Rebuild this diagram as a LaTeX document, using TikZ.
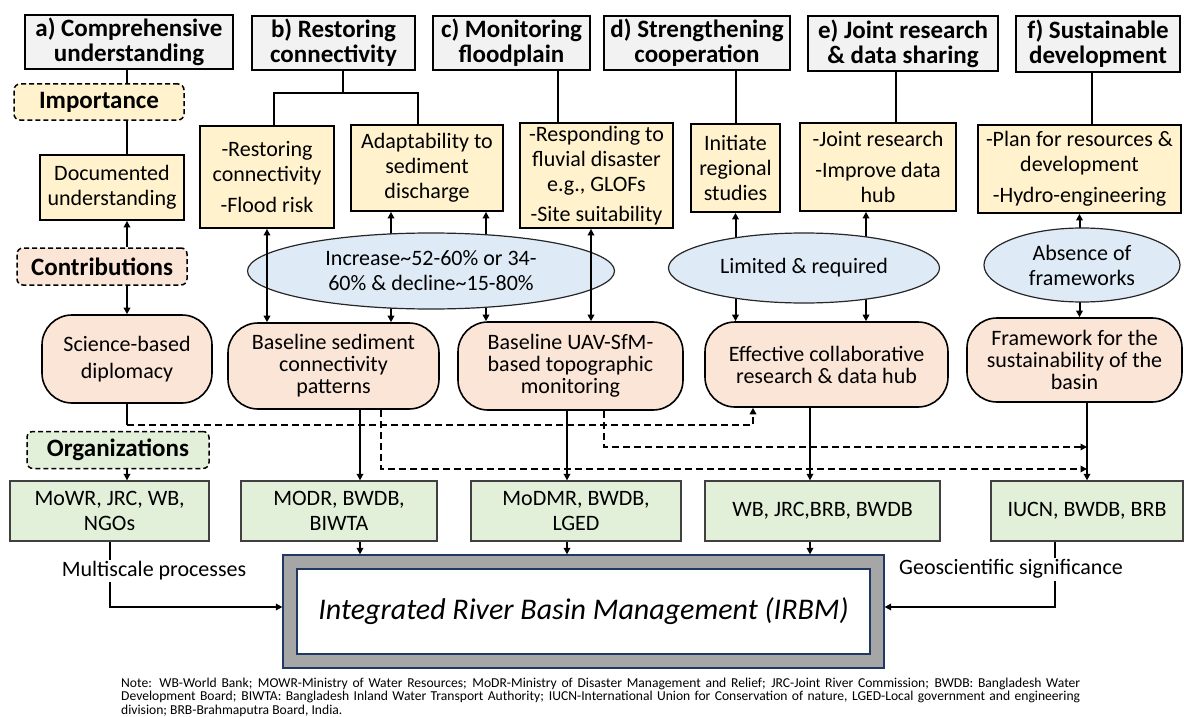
\documentclass[tikz,border=0pt]{standalone}
\usepackage{fontspec}
\setmainfont{Carlito}
\usepackage{tikz}
\usetikzlibrary{arrows.meta,shapes.geometric}
\definecolor{headgray}{HTML}{F2F2F2}
\definecolor{ideayel}{HTML}{FFF2CC}
\definecolor{pinkfill}{HTML}{FBE5D6}
\definecolor{orggreen}{HTML}{E2F0D9}
\definecolor{ovalblue}{HTML}{DEEBF7}
\definecolor{framegray}{HTML}{A6A6A6}
\definecolor{navy}{HTML}{203864}
\pgfdeclarelayer{bg}
\pgfsetlayers{bg,main}

\begin{document}
\begin{tikzpicture}[x=1pt, y=-1pt,
every node/.style={inner sep=0pt, align=center, font=\fontsize{22}{25}\selectfont},
sz/.style 2 args={minimum width=#1pt, minimum height=#2pt},
head/.style={draw, line width=1.6pt, fill=headgray, font=\fontsize{25}{25}\selectfont\bfseries},
tagbox/.style={draw, dash pattern=on 5pt off 3pt, line width=1.5pt, rounded corners=6pt, font=\fontsize{25}{25}\selectfont\bfseries},
idea/.style={draw, line width=1.8pt, fill=ideayel},
pill/.style={draw, line width=1.6pt, fill=pinkfill, rounded corners=30pt, font=\fontsize{22}{22}\selectfont},
oval/.style={ellipse, draw=black!85, line width=1.2pt, fill=ovalblue, inner sep=-8pt},
org/.style={draw=black!75, line width=1.3pt, fill=orggreen},
link/.style={line width=2pt},
arr/.style={-{Triangle[length=6.5pt,width=6.5pt]}, line width=2pt},
biarr/.style={{Triangle[length=6.5pt,width=6.5pt]}-{Triangle[length=6.5pt,width=6.5pt]}, line width=2pt},
dasharr/.style={arr, dash pattern=on 7pt off 4pt}
]
\useasboundingbox (0,0) rectangle (1184,717);

% headers
\node[head, sz={208}{54}] (ha) at (129,42) {a) Comprehensive\\understanding};
\node[head, sz={163}{54}] (hb) at (333.5,43) {b) Restoring\\connectivity};
\node[head, sz={157}{54}] (hc) at (511.5,43) {c) Monitoring\\floodplain};
\node[head, sz={186}{54}] (hd) at (697,43) {d) Strengthening\\cooperation};
\node[head, sz={190}{55}] (he) at (903,43.5) {e) Joint research\\\& data sharing};
\node[head, sz={164}{56}] (hf) at (1098,44) {f) Sustainable\\development};

% column a
\node[tagbox, fill=ideayel, sz={170}{36}] (imp) at (99,102) {Importance};
\node[idea, sz={144}{65}] (doc) at (112,187.5) {Documented\\understanding};
\node[tagbox, fill=pinkfill, sz={170}{37}] (contrib) at (102,266.5) {Contributions};
\node[pill, sz={170}{88}] (sci) at (127,359) {Science-based\\[5pt]diplomacy};
\node[tagbox, fill=orggreen, sz={182}{37}] (orgs) at (118,450) {Organizations};

% yellow boxes
\node[idea, sz={134}{102}] (rest) at (267,177) {-Restoring\\connectivity\\[6pt]-Flood risk};
\node[idea, sz={152}{86}] (adapt) at (427,168) {Adaptability to\\sediment\\discharge};
\node[idea, sz={153}{105}] (resp) at (596.5,175.5) {-Responding to\\fluvial disaster\\e.g., GLOFs\\[5pt]-Site suitability};
\node[idea, sz={89}{88}] (init) at (735.5,168) {Initiate\\regional\\studies};
\node[idea, sz={156}{88}] (joint) at (878,167) {-Joint research\\[6pt]-Improve data\\hub};
\node[idea, sz={203}{88}] (plan) at (1079.5,169) {-Plan for resources \&\\development\\[6pt]-Hydro-engineering};

% ovals
\node[oval, sz={367}{76}] (inc) at (431,271) {Increase\textasciitilde52-60\% or 34-\\60\% \& decline\textasciitilde15-80\%};
\node[oval, sz={271}{70}] (lim) at (804,268) {Limited \& required};
\node[oval, sz={196}{74}] (abs) at (1082,265) {Absence of\\frameworks};

% pills
\node[pill, sz={211}{86}] (sed) at (333.5,366) {Baseline sediment\\connectivity\\patterns};
\node[pill, sz={225}{88}] (uav) at (570.5,366) {Baseline UAV-SfM-\\based topographic\\monitoring};
\node[pill, sz={243}{85}] (eff) at (826.5,364.5) {Effective collaborative\\research \& data hub};
\node[pill, sz={215}{84}] (fw) at (1074.5,360) {Framework for the\\sustainability of the\\basin};

% organizations
\node[org, sz={199}{60}] (mowr) at (109.5,511) {MoWR, JRC, WB,\\NGOs};
\node[org, sz={196}{60}] (modr) at (339,511) {MODR, BWDB,\\BIWTA};
\node[org, sz={210}{60}] (modmr) at (576,511) {MoDMR, BWDB,\\LGED};
\node[org, sz={235}{60}] (wbj) at (822.5,511) {WB, JRC,BRB, BWDB};
\node[org, sz={192}{60}] (iucn) at (1087,511) {IUCN, BWDB, BRB};

% IRBM
\node[draw=navy, line width=1.2pt, fill=framegray, sz={601}{113}] (irbmo) at (583.5,611.5) {};
\node[draw=navy, line width=1.2pt, fill=white, sz={573}{85}, font=\fontsize{30}{32}\selectfont\itshape] (irbm) at (583.5,611.5) {Integrated River Basin Management (IRBM)};

% note
\node[text width=959pt, align=justify, anchor=north west, font=\fontsize{13.6}{13.2}\selectfont] (note) at (121,678) {Note: WB-World Bank; MOWR-Ministry of Water Resources; MoDR-Ministry of Disaster Management and Relief; JRC-Joint River Commission; BWDB: Bangladesh Water\linebreak Development Board; BIWTA: Bangladesh Inland Water Transport Authority; IUCN-International Union for Conservation of nature, LGED-Local government and engineering\linebreak division; BRB-Brahmaputra Board, India.};

% column a links
\coordinate (ca) at (127,0);
\coordinate (j1) at (127,425);
\draw[link] (ha.south -| ca) -- (imp.north -| ca);
\draw[link] (imp.south -| ca) -- (doc.north -| ca);
\draw[arr] (contrib.north -| ca) -- (doc.south -| ca);
\draw[arr] (contrib.south -| ca) -- (sci.north -| ca);
\draw[link] (sci.south) -- (j1);
\draw[dasharr] (j1) -| (eff.south -| 753,0);
\draw[arr] (orgs.south -| ca) -- (mowr.north -| ca);

% header stems
\coordinate (fb) at (343,93);
\draw[link] (hb.south -| fb) -- (fb);
\draw[link] (rest.north -| 274,0) |- (fb) -| (adapt.north -| 418,0);
\draw[link] (hc.south -| 558,0) -- (resp.north -| 558,0);
\draw[link] (hd.south -| init.north) -- (init.north);
\draw[link] (he.south -| 896,0) -- (joint.north -| 896,0);
\draw[link] (hf.south -| 1092,0) -- (plan.north -| 1092,0);

% through the ovals
\draw[biarr] (rest.south) -- (rest.south |- sed.north);
\draw[biarr] (resp.south -| 591,0) -- (uav.north -| 591,0);
\begin{pgfonlayer}{bg}
\draw[arr] (inc.center -| 391,0) -- (adapt.south -| 391,0);
\draw[arr] (inc.center -| 486,0) -- (adapt.south -| 486,0);
\draw[arr] (inc.center -| 391,0) -- (sed.north -| 391,0);
\draw[arr] (inc.center -| 486,0) -- (uav.north -| 486,0);
\draw[arr] (lim.center -| init.south) -- (init.south);
\draw[arr] (lim.center -| 866,0) -- (joint.south -| 866,0);
\draw[arr] (lim.center -| init.south) -- (eff.north -| init.south);
\draw[arr] (lim.center -| 866,0) -- (eff.north -| 866,0);
\draw[arr] (abs.center -| plan.south) -- (plan.south);
\draw[arr] (abs.center -| plan.south) -- (fw.north -| plan.south);
\end{pgfonlayer}

% down to organizations
\draw[arr] (sed.south -| 360,0) -- (modr.north -| 360,0);
\draw[dasharr] (sed.south -| 381,0) |- (iucn.north |- 0,469);
\draw[arr] (uav.south -| 567,0) -- (modmr.north -| 567,0);
\draw[dasharr] (uav.south -| 604,0) |- (iucn.north |- 0,447);
\draw[arr] (eff.south -| 810,0) -- (wbj.north -| 810,0);
\draw[arr] (fw.south -| iucn.north) -- (iucn.north);

% into IRBM
\draw[arr] (modr.south -| 360,0) -- (irbmo.north -| 360,0);
\draw[arr] (modmr.south -| 567,0) -- (irbmo.north -| 567,0);
\draw[arr] (wbj.south -| 810,0) -- (irbmo.north -| 810,0);
\draw[arr] (mowr.south -| 110,0) |- (irbmo.west |- 0,607);
\draw[arr] (iucn.south -| 1055,0) |- (irbmo.east |- 0,607);
\node[fill=white, inner sep=2pt] (msp) at (154,571) {Multiscale processes};
\node[fill=white, inner sep=2pt] (geo) at (1011,569) {Geoscientific significance};
\end{tikzpicture}
\end{document}
